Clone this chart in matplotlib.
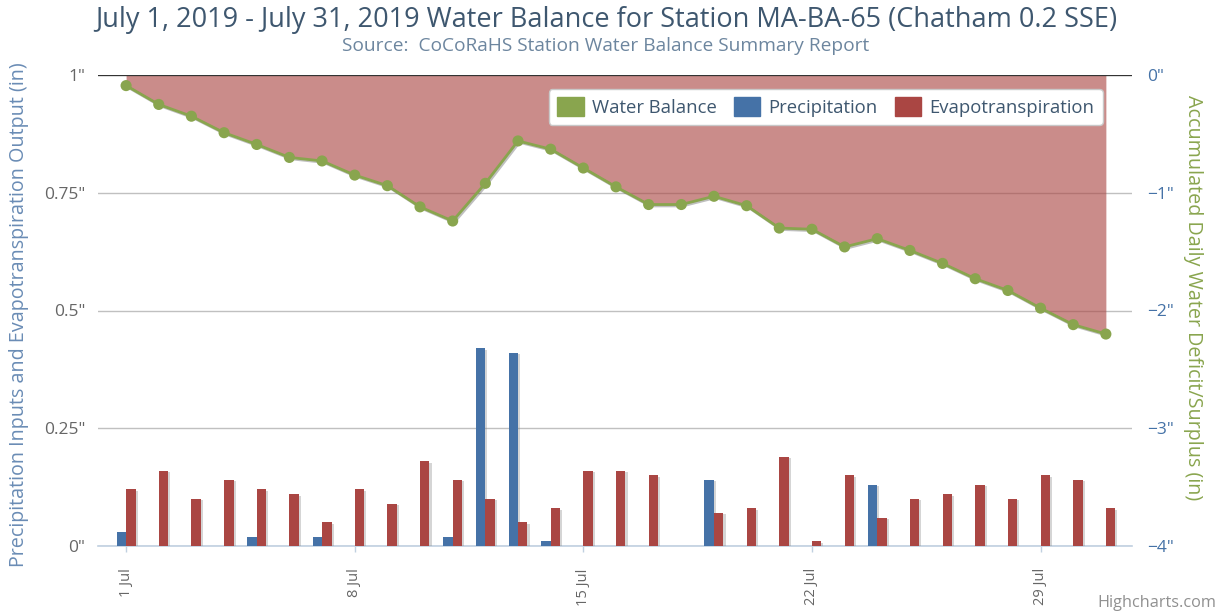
import matplotlib
matplotlib.use('Agg')
import matplotlib.pyplot as plt
from matplotlib.patches import Patch
import matplotlib.patheffects as pe

plt.rcParams['font.family'] = ['Open Sans', 'DejaVu Sans']

# ---------------- data ----------------
days = list(range(1, 32))
precipitation = [0.03, 0, 0, 0, 0.02, 0, 0.02, 0, 0, 0, 0.02, 0.42, 0.41, 0.01, 0,
                 0, 0, 0, 0.14, 0, 0, 0, 0, 0.13, 0, 0, 0, 0, 0, 0, 0]
evapotranspiration = [0.12, 0.16, 0.10, 0.14, 0.12, 0.11, 0.05, 0.12, 0.09, 0.18,
                      0.14, 0.10, 0.05, 0.08, 0.16, 0.16, 0.15, 0, 0.07, 0.08,
                      0.19, 0.01, 0.15, 0.06, 0.10, 0.11, 0.13, 0.10, 0.15, 0.14, 0.08]
water_balance = [-0.09, -0.25, -0.35, -0.49, -0.59, -0.70, -0.73, -0.85, -0.94, -1.12,
                 -1.24, -0.92, -0.56, -0.63, -0.79, -0.95, -1.10, -1.10, -1.03, -1.11,
                 -1.30, -1.31, -1.46, -1.39, -1.49, -1.60, -1.73, -1.83, -1.98, -2.12, -2.20]
x_ticks = [1, 8, 15, 22, 29]
x_tick_labels = ['1 Jul', '8 Jul', '15 Jul', '22 Jul', '29 Jul']
left_ticks = [0, 0.25, 0.5, 0.75, 1]
left_tick_labels = ['0"', '0.25"', '0.5"', '0.75"', '1"']
right_ticks = [-4, -3, -2, -1, 0]
right_tick_labels = ['\u22124"', '\u22123"', '\u22122"', '\u22121"', '0"']

title = 'July 1, 2019 - July 31, 2019 Water Balance for Station MA-BA-65 (Chatham 0.2 SSE)'
subtitle = 'Source:  CoCoRaHS Station Water Balance Summary Report'

C_BLUE = '#4572A7'
C_RED = '#AA4643'
C_GREEN = '#89A54E'

W, H = 1224, 613
fig = plt.figure(figsize=(W / 100, H / 100), dpi=100)
L, R, T, B = 98, 1132, 75, 546
ax = fig.add_axes([L / W, 1 - B / H, (R - L) / W, (B - T) / H])
ax2 = ax.twinx()

# bars (left axis)
bw = 0.29
shadow = [pe.SimplePatchShadow(offset=(1.5, -1.0), shadow_rgbFace='#888888', alpha=0.35), pe.Normal()]
ax.bar([d - bw / 2 for d in days], precipitation, width=bw, color=C_BLUE,
       lw=0, zorder=3, path_effects=shadow)
ax.bar([d + bw / 2 for d in days], evapotranspiration, width=bw, color=C_RED,
       lw=0, zorder=3, path_effects=shadow)

ax.set_ylim(0, 1)
ax.set_xlim(1 - 0.86, 31 + 0.80)
ax.set_yticks(left_ticks)
ax.set_yticklabels(left_tick_labels)
ax.yaxis.grid(True, color='#C0C0C0', lw=1)
ax.set_axisbelow(True)
ax.tick_params(axis='y', length=0, pad=9, labelsize=12.5, labelcolor='#666666')
ax.set_xticks(x_ticks)
ax.set_xticklabels(x_tick_labels, rotation=90, va='top', ha='center')
ax.tick_params(axis='x', length=4, width=1, color='#C0D0E0', labelsize=10.5,
               labelcolor='#666666', pad=12)
for s in ['top', 'right', 'left']:
    ax.spines[s].set_visible(False)
ax.spines['bottom'].set_color('#C0D0E0')
ax.spines['bottom'].set_linewidth(1.2)

# water balance (right axis)
ax2.fill_between(days, water_balance, 0, color=C_RED, alpha=0.62, lw=0, zorder=1)
ax2.plot(days, water_balance, color=C_GREEN, lw=2, marker='o', ms=8, mew=0,
         zorder=3, path_effects=[pe.SimpleLineShadow(offset=(1, -1), alpha=0.25), pe.Normal()])
ax2.axhline(0, color='#333333', lw=1.6, zorder=4)
ax2.set_ylim(-4, 0)
ax2.set_yticks(right_ticks)
ax2.set_yticklabels(right_tick_labels)
ax2.tick_params(axis='y', length=0, pad=11, labelsize=12.5, labelcolor=C_BLUE)
for s in ['top', 'right', 'left', 'bottom']:
    ax2.spines[s].set_visible(False)

# legend
handles = [Patch(facecolor=C_GREEN, edgecolor=C_GREEN),
           Patch(facecolor=C_BLUE, edgecolor=C_BLUE),
           Patch(facecolor=C_RED, edgecolor=C_RED)]
leg = ax2.legend(handles, ['Water Balance', 'Precipitation', 'Evapotranspiration'],
                 loc='upper right', bbox_to_anchor=((1103 - L) / (R - L), (B - 89) / (B - T)),
                 ncol=3, fontsize=13.3, frameon=True, fancybox=True, borderaxespad=0,
                 handlelength=1.45, handleheight=1.15, handletextpad=0.45, columnspacing=0.9,
                 borderpad=0.45)
for t in leg.get_texts():
    t.set_color('#3E576F')
leg.get_frame().set_edgecolor('#C8C8C8')
leg.get_frame().set_facecolor('white')
leg.get_frame().set_alpha(1)
leg.set_zorder(10)

# titles and axis labels
fig.text(606 / W, 1 - 20 / H, title, ha='center', va='center', fontsize=19.5, color='#3E576F')
fig.text(606 / W, 1 - 46 / H, subtitle, ha='center', va='center', fontsize=13.8, color='#6D869F')
fig.text(19 / W, 1 - 315 / H, 'Precipitation Inputs and Evapotranspiration Output (in)',
         rotation=90, ha='center', va='center', fontsize=14.2, color='#6A8CB5')
fig.text(1193 / W, 1 - 298 / H, 'Accumulated Daily Water Deficit/Surplus (in)',
         rotation=270, ha='center', va='center', fontsize=14.2, color=C_GREEN)
fig.text(1216 / W, 1 - 603 / H, 'Highcharts.com', ha='right', va='center',
         fontsize=11.7, color='#909090')

fig.savefig('out.png', dpi=100)
